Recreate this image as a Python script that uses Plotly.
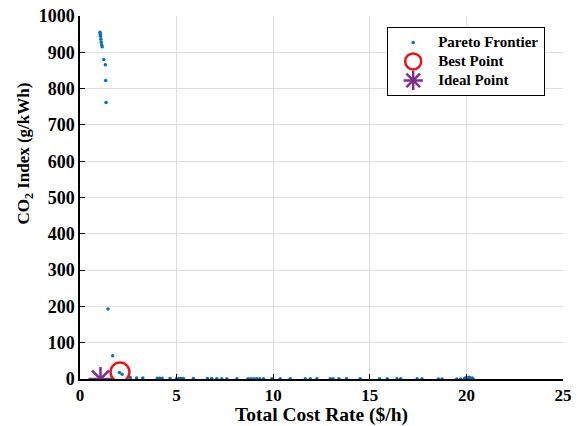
import plotly.graph_objects as go

# Pareto frontier of the two-objective optimisation (cost rate vs. CO2 index)
pareto_cost = [
    1.04, 1.05, 1.06, 1.08, 1.10, 1.12, 1.15, 1.23, 1.31, 1.33, 1.35,
    1.45, 1.69, 2.04, 2.18,
    2.60, 2.93, 3.25, 4.00, 4.12, 4.25, 4.66, 5.00, 5.12, 5.22, 5.35,
    5.87, 6.60, 6.82, 7.08, 7.34, 7.60, 8.12, 8.70, 8.85, 9.00, 9.15,
    9.30, 9.50, 9.93, 10.36, 10.88, 11.66, 11.92, 12.26, 12.95, 13.10,
    13.40, 13.80, 14.50, 15.50, 15.90, 16.40, 16.60, 17.45, 17.70,
    18.55, 18.74, 19.50, 19.70, 19.90, 20.00, 20.08, 20.15, 20.20,
    20.25, 20.30, 20.35,
]
pareto_co2 = [
    955, 950, 944, 936, 928, 920, 915, 880, 866, 822, 762,
    193, 64, 18, 13,
    4, 3, 2.5, 2, 2, 1.8, 1.6, 1.5, 1.5, 1.4, 1.3,
    1.2, 1.1, 1.1, 1.0, 1.0, 1.0, 0.9, 0.9, 0.9, 0.8, 0.8,
    0.8, 0.8, 0.7, 0.7, 0.7, 0.6, 0.6, 0.6, 0.5, 0.5,
    0.5, 0.5, 0.5, 0.4, 0.4, 0.4, 0.4, 0.4, 0.4,
    0.3, 0.3, 0.3, 0.3, 2, 4, 3, 5, 2,
    1, 3, 0.3,
]

best_cost = [2.07]
best_co2 = [19]

ideal_cost = [1.06]
ideal_co2 = [0]

x_ticks = [0, 5, 10, 15, 20, 25]
y_ticks = [0, 100, 200, 300, 400, 500, 600, 700, 800, 900, 1000]

serif = "Liberation Serif"


def legend_label(text):
    # larger glyphs than the legend's nominal font, which keeps rows compact
    return f'<span style="font-size:15px">{text}</span>'


fig = go.Figure()
fig.add_trace(go.Scatter(
    x=pareto_cost, y=pareto_co2, mode="markers",
    name=legend_label("Pareto Frontier"),
    marker=dict(color="#0072BD", size=3.5),
))
fig.add_trace(go.Scatter(
    x=best_cost, y=best_co2, mode="markers",
    name=legend_label("Best Point"),
    marker=dict(symbol="circle-open", color="#E8141B", size=19,
                line=dict(width=2.5, color="#E8141B")),
))
fig.add_trace(go.Scatter(
    x=ideal_cost, y=ideal_co2, mode="markers",
    name=legend_label("Ideal Point"),
    marker=dict(symbol="asterisk-open", color="#7E2F8E", size=20,
                line=dict(width=2.5, color="#7E2F8E")),
))

axis_common = dict(
    showgrid=True, gridcolor="#dedede", gridwidth=1,
    showline=True, linecolor="black", linewidth=1.5,
    ticks="inside", ticklen=5, tickcolor="black",
    zeroline=False, mirror=False, automargin=False,
)

fig.update_layout(
    width=580, height=426,
    margin=dict(l=80, r=17, t=16, b=47),
    paper_bgcolor="white", plot_bgcolor="white",
    font=dict(family=serif, color="black"),
    xaxis=dict(
        range=[0, 25], tickvals=x_ticks,
        tickfont=dict(family=serif, size=17, color="black", weight="bold"),
        title=dict(text="<b>Total Cost Rate ($/h)</b>", standoff=3,
                   font=dict(family=serif, size=19.5)),
        **axis_common,
    ),
    yaxis=dict(
        range=[0, 1000], tickvals=y_ticks,
        tickfont=dict(family=serif, size=18, color="black", weight="bold"),
        **axis_common,
    ),
    annotations=[dict(
        text="<b>CO<sub>2</sub> Index (g/kWh)</b>",
        textangle=-90, xref="paper", yref="paper",
        x=0, y=0.621, xanchor="center", yanchor="middle",
        xshift=-55, showarrow=False,
        font=dict(family=serif, size=17, color="black"),
    )],
    legend=dict(
        x=0.636, y=0.97, xanchor="left", yanchor="top",
        bgcolor="white", bordercolor="black", borderwidth=1,
        font=dict(family=serif, size=11.5, color="black", weight="bold"),
        tracegroupgap=0, itemsizing="trace", itemwidth=40,
    ),
    showlegend=True,
)

fig.write_html("out.html")
